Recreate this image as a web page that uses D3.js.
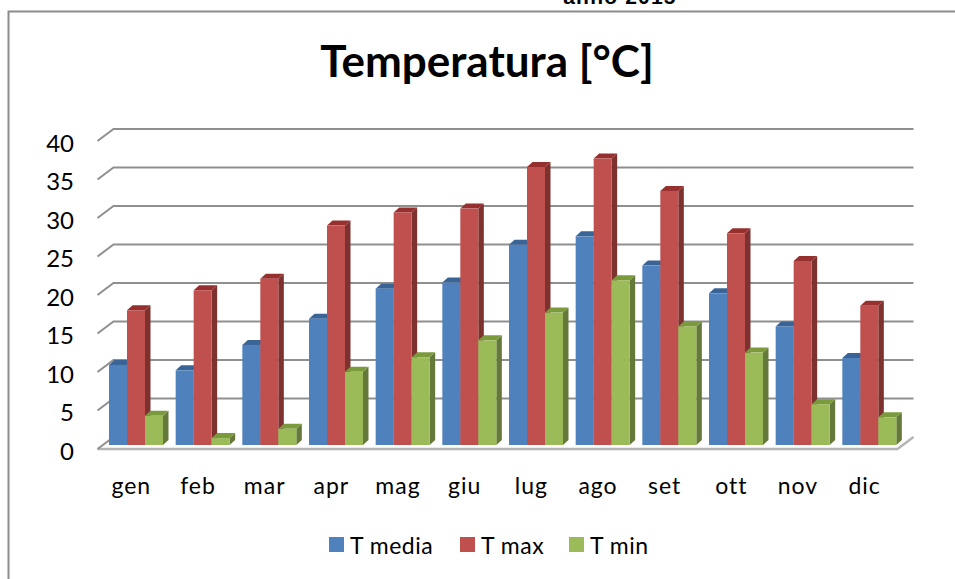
<!DOCTYPE html>
<html>
<head>
<meta charset="utf-8">
<script src="https://cdn.jsdelivr.net/npm/d3@7"></script>
<style>
  html, body { margin: 0; padding: 0; background: #fff; overflow: hidden; }
  text { font-family: Lato, "Open Sans", sans-serif; fill: #000; }
</style>
</head>
<body>
<svg id="chart" width="955" height="579"></svg>
<script>
const months = ['gen', 'feb', 'mar', 'apr', 'mag', 'giu', 'lug', 'ago', 'set', 'ott', 'nov', 'dic'];
const seriesNames = ['T media', 'T max', 'T min'];
const tMedia = [10.4, 9.7, 13, 16.4, 20.3, 21.1, 26, 27.1, 23.3, 19.7, 15.4, 11.3];
const tMax = [17.5, 20.1, 21.6, 28.5, 30.2, 30.7, 36.1, 37.2, 33, 27.5, 23.9, 18.1];
const tMin = [3.8, 0.9, 2.1, 9.5, 11.4, 13.6, 17.2, 21.4, 15.4, 12, 5.3, 3.6];
const yTicks = [0, 5, 10, 15, 20, 25, 30, 35, 40];

// front, top and side colours of each series
const colors = [
  { front: '#4f81bd', top: '#3a6496', side: '#385d8a' },
  { front: '#c0504d', top: '#96302e', side: '#7d3230' },
  { front: '#9bbb59', top: '#7a9a3c', side: '#64793a' }
];

const svg = d3.select('#chart');

// the wall sits behind the front plane by this much
const depthX = 16, depthY = -12;
const barDx = 5.5, barDy = -5;

const y = d3.scaleLinear().domain([0, 40]).range([449, 141]);
const yBar = d3.scaleLinear().domain([0, 40]).range([445, 137]);
const x = d3.scaleBand().domain(months).range([97.5, 897.5]).paddingInner(0).paddingOuter(0);
const xSeries = d3.scaleBand().domain(d3.range(3)).range([0, 54]);
const barOffset = 11.5;

// chart frame
svg.append('path')
  .attr('d', 'M8.5,579V11.5H955')
  .attr('fill', 'none')
  .attr('stroke', '#8c8c8c')
  .attr('stroke-width', 2);

// text clipped by the top of the page
svg.append('text')
  .attr('x', 620).attr('y', 4)
  .attr('text-anchor', 'middle')
  .style('font-family', '"Liberation Sans", sans-serif')
  .style('font-weight', 700)
  .style('font-size', '21px')
  .style('letter-spacing', '1.2px')
  .text('anno 2015');

svg.append('text')
  .attr('x', 487).attr('y', 77)
  .attr('text-anchor', 'middle')
  .style('font-weight', 700)
  .style('font-size', '44px')
  .text('Temperatura [°C]');

// gridlines with their short slanted part on the side wall
const grid = svg.append('g');
grid.selectAll('path')
  .data(yTicks.slice(1))
  .join('path')
  .attr('d', d => `M${x.range()[0]},${y(d)}l${depthX},${depthY}H${x.range()[1] + depthX}`)
  .attr('fill', 'none')
  .attr('stroke', '#8f8f8f')
  .attr('stroke-width', 2);

// floor
const x0 = x.range()[0], x1 = x.range()[1];
svg.append('path')
  .attr('d', `M${x0},${y(0)}H${x1}l${depthX},${depthY}`)
  .attr('fill', 'none')
  .attr('stroke', '#b5b5b5')
  .attr('stroke-width', 2.5);
svg.append('path')
  .attr('d', `M${x0},${y(0)}l${depthX},${depthY}`)
  .attr('fill', 'none')
  .attr('stroke', '#8f8f8f')
  .attr('stroke-width', 2);

// bars, drawn back to front within the group order
[tMedia, tMax, tMin].forEach((values, s) => {
  const g = svg.append('g');
  const bars = g.selectAll('g')
    .data(values.map((v, i) => ({ v, month: months[i] })))
    .join('g')
    .attr('transform', d => `translate(${x(d.month) + barOffset + xSeries(s)},0)`);
  const w = xSeries.bandwidth();
  bars.append('path') // side
    .attr('d', d => `M${w},${yBar(d.v)}l${barDx},${barDy}V${yBar(0) + barDy}l${-barDx},${-barDy}Z`)
    .attr('fill', colors[s].side);
  bars.append('path') // top
    .attr('d', d => `M0,${yBar(d.v)}l${barDx},${barDy}h${w}l${-barDx},${-barDy}Z`)
    .attr('fill', colors[s].top);
  bars.append('rect') // front
    .attr('y', d => yBar(d.v))
    .attr('width', w)
    .attr('height', d => yBar(0) - yBar(d.v))
    .attr('fill', colors[s].front);
});

// y labels
svg.append('g').selectAll('text')
  .data(yTicks)
  .join('text')
  .attr('x', 74)
  .attr('y', d => y(d) + 10.5)
  .attr('text-anchor', 'end')
  .style('font-size', '24px')
  .text(d => d);

// x labels
svg.append('g').selectAll('text')
  .data(months)
  .join('text')
  .attr('x', d => x(d) + x.bandwidth() / 2 + 0.5)
  .attr('y', 494)
  .attr('text-anchor', 'middle')
  .style('font-size', '23px')
  .style('letter-spacing', '1px')
  .text(d => d);

// legend
const legendX = [329, 460, 569];
const legend = svg.append('g').selectAll('g')
  .data(seriesNames)
  .join('g')
  .attr('transform', (d, i) => `translate(${legendX[i]},537)`);
legend.append('rect')
  .attr('width', 15).attr('height', 15)
  .attr('fill', (d, i) => colors[i].front);
legend.append('text')
  .attr('x', 21).attr('y', 17)
  .style('font-size', '23px')
  .style('letter-spacing', '0.5px')
  .text(d => d);
</script>
</body>
</html>
